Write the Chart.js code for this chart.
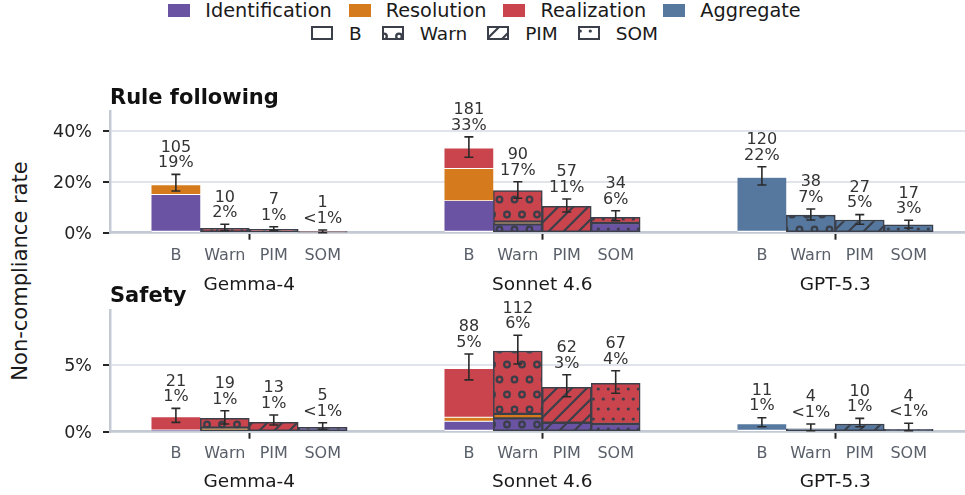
<!DOCTYPE html>
<html>
<head>
<meta charset="utf-8">
<script src="https://cdn.jsdelivr.net/npm/chart.js@4.4.1/dist/chart.umd.min.js"></script>
<style>
html,body{margin:0;padding:0;background:#fff;}
body{width:965px;height:495px;position:relative;overflow:hidden;font-family:"DejaVu Sans",sans-serif;}
.cw{position:absolute;left:0;width:965px;}
#c1w{top:80px;height:220px;}
#c2w{top:280px;height:215px;}
#ylab{position:absolute;left:19.5px;top:271px;transform:translate(-50%,-50%) rotate(-90deg);font-size:21px;color:#1a1a1a;white-space:nowrap;}
.legrow{position:absolute;left:0;width:969px;height:20px;display:flex;justify-content:center;align-items:center;color:#1a1a1a;white-space:nowrap;}
#leg1{top:0px;font-size:19.3px;}
#leg2{top:23px;font-size:18.5px;}
.item{display:flex;align-items:center;}
#leg1 .item{margin:0 8.5px;}
#leg2 .item{margin:0 10px;}
#leg1 canvas{margin-right:15px;}
#leg2 canvas{margin-right:16px;}
</style>
</head>
<body>
<div id="leg1" class="legrow"></div>
<div id="leg2" class="legrow"></div>
<div id="ylab">Non-compliance rate</div>
<div id="c1w" class="cw"><canvas id="c1" width="965" height="220"></canvas></div>
<div id="c2w" class="cw"><canvas id="c2" width="965" height="215"></canvas></div>
<script>
// ---------------- data ----------------
const GROUPS = ['Gemma-4', 'Sonnet 4.6', 'GPT-5.3'];
const CONDITIONS = ['B', 'Warn', 'PIM', 'SOM'];
const CATEGORIES = ['Identification', 'Resolution', 'Realization', 'Aggregate'];
const CAT_COLORS = ['#6a53a2', '#d57b1d', '#c9444c', '#56789f'];

// Rule following (% non-compliance); bar order: Gemma B,Warn,PIM,SOM, Sonnet ..., GPT ...
const rfIdentification = [14.8, null, null, null, 12.4, 3.3, null, 3.8, null, null, null, null];
const rfResolution     = [3.8, null, null, null, 12.6, 1.0, null, null, null, null, null, null];
const rfRealization    = [null, 1.75, 1.3, 0.18, 8.1, 12.2, 10.35, 2.2, null, null, null, null];
const rfAggregate      = [null, null, null, null, null, null, null, null, 21.6, 6.9, 5.0, 3.1];
const rfErrLow  = [16.35, 0.8, 0.8, 0.0, 29.6, 13.5, 8.1, 4.7, 18.7, 5.0, 3.3, 1.85];
const rfErrHigh = [22.9, 3.3, 2.35, 1.06, 37.6, 20.0, 13.2, 8.6, 25.9, 9.3, 7.1, 4.9];
const rfCounts  = ['105', '10', '7', '1', '181', '90', '57', '34', '120', '38', '27', '17'];
const rfPct     = ['19%', '2%', '1%', '<1%', '33%', '17%', '11%', '6%', '22%', '7%', '5%', '3%'];
const rfTicks   = [0, 20, 40];
const rfMax     = 47.5;

// Safety
const sfIdentification = [0.1, null, null, 0.33, 0.75, 1.0, 0.67, 0.58, null, null, null, null];
const sfResolution     = [null, 0.3, null, null, 0.3, 0.33, null, null, null, null, null, null];
const sfRealization    = [0.98, 0.7, 0.7, null, 3.65, 4.72, 2.66, 3.05, null, null, null, null];
const sfAggregate      = [null, null, null, null, null, null, null, null, 0.55, 0.22, 0.58, 0.18];
const sfErrLow  = [0.7, 0.58, 0.5, 0.18, 3.88, 5.07, 2.62, 2.88, 0.37, 0.07, 0.37, 0.07];
const sfErrHigh = [1.75, 1.57, 1.25, 0.67, 5.82, 7.23, 4.27, 4.57, 1.05, 0.58, 1.0, 0.63];
const sfCounts  = ['21', '19', '13', '5', '88', '112', '62', '67', '11', '4', '10', '4'];
const sfPct     = ['1%', '1%', '1%', '<1%', '5%', '6%', '3%', '4%', '1%', '<1%', '1%', '<1%'];
const sfTicks   = [0, 5];
const sfMax     = 9.12;

// ---------------- layout / style ----------------
const FONT = "'DejaVu Sans', sans-serif";
Chart.defaults.font.family = FONT;
const EDGE = '#3a3f4a';
const X_MIN = -0.4754, X_MAX = 2.4427;   // group index axis range
const BAR_W = 0.167;                      // bar width in group units

function barX(i) {
  const g = Math.floor(i / 4), c = i % 4;
  return g + (c - 1.5) * BAR_W;
}

// ---------------- hatch patterns ----------------
const patCache = {};
function makeTile(color, cond) {
  const t = document.createElement('canvas');
  const c = t.getContext('2d');
  if (cond === 1) {
    t.width = 15; t.height = 30;
    c.fillStyle = color; c.fillRect(0, 0, 15, 30);
    c.strokeStyle = EDGE; c.lineWidth = 2.3;
    const pts = [[4.5, 19.5], [12, 4.5]];
    for (const [px, py] of pts) {
      for (const dx of [-15, 0, 15]) for (const dy of [-30, 0, 30]) {
        c.beginPath(); c.arc(px + dx, py + dy, 2.8, 0, Math.PI * 2); c.stroke();
      }
    }
  } else if (cond === 2) {
    t.width = 15; t.height = 15;
    c.fillStyle = color; c.fillRect(0, 0, 15, 15);
    c.strokeStyle = EDGE; c.lineWidth = 2.2; c.lineCap = 'square';
    for (const k of [0, 15, 30]) {
      c.beginPath(); c.moveTo(-2, k + 2); c.lineTo(17, k - 17); c.stroke();
    }
  } else {
    t.width = 10; t.height = 20;
    c.fillStyle = color; c.fillRect(0, 0, 10, 20);
    c.fillStyle = EDGE;
    const pts = [[8.3, 9], [3.3, 19]];
    for (const [px, py] of pts) {
      for (const dx of [-10, 0, 10]) for (const dy of [-20, 0, 20]) {
        c.beginPath(); c.arc(px + dx, py + dy, 1.6, 0, Math.PI * 2); c.fill();
      }
    }
  }
  return t;
}
function fillFor(ctx2d, color, cond, pageX, pageY) {
  if (cond === 0) return color;
  const key = color + '|' + cond + '|' + pageX + '|' + pageY;
  if (!patCache[key]) {
    const p = ctx2d.createPattern(makeTile(color, cond), 'repeat');
    p.setTransform(new DOMMatrix().translate(-pageX, -pageY));
    patCache[key] = p;
  }
  return patCache[key];
}

// ---------------- legend ----------------
(function buildLegend() {
  const l1 = document.getElementById('leg1');
  CATEGORIES.forEach((name, k) => {
    const it = document.createElement('div'); it.className = 'item';
    const cv = document.createElement('canvas'); cv.width = 22; cv.height = 13;
    const c = cv.getContext('2d'); c.fillStyle = CAT_COLORS[k]; c.fillRect(0, 0, 22, 13);
    const sp = document.createElement('span'); sp.textContent = name;
    it.appendChild(cv); it.appendChild(sp); l1.appendChild(it);
  });
  const l2 = document.getElementById('leg2');
  CONDITIONS.forEach((name, k) => {
    const it = document.createElement('div'); it.className = 'item';
    const cv = document.createElement('canvas'); cv.width = 22; cv.height = 14;
    const c = cv.getContext('2d');
    c.fillStyle = k === 0 ? '#ffffff' : fillFor(c, '#ffffff', k, -3 - k * 2, -6);
    c.fillRect(0, 0, 22, 14);
    c.strokeStyle = EDGE; c.lineWidth = 2; c.strokeRect(1, 1, 20, 12);
    const sp = document.createElement('span'); sp.textContent = name;
    it.appendChild(cv); it.appendChild(sp); l2.appendChild(it);
  });
})();

// ---------------- error bars + labels plugin ----------------
const errPlugin = {
  id: 'errLabels',
  afterDatasetsDraw(chart) {
    const o = chart.options.plugins.errLabels;
    const xs = chart.scales.x, ys = chart.scales.y, ctx = chart.ctx;
    ctx.save();
    for (let i = 0; i < o.lo.length; i++) {
      const x = xs.getPixelForValue(barX(i));
      const yl = ys.getPixelForValue(o.lo[i]);
      const yh = ys.getPixelForValue(o.hi[i]);
      ctx.strokeStyle = '#2a2a2a'; ctx.lineWidth = 1.6;
      ctx.beginPath();
      ctx.moveTo(x, yl); ctx.lineTo(x, yh);
      ctx.moveTo(x - 4.5, yl); ctx.lineTo(x + 4.5, yl);
      ctx.moveTo(x - 4.5, yh); ctx.lineTo(x + 4.5, yh);
      ctx.stroke();
      ctx.fillStyle = '#333333';
      ctx.font = '16px ' + FONT;
      ctx.textAlign = 'center'; ctx.textBaseline = 'alphabetic';
      ctx.fillText(o.pct[i], x, yh - 7.2);
      ctx.fillText(o.counts[i], x, yh - 22.7);
    }
    ctx.restore();
  }
};

// ---------------- chart factory ----------------
function makeChart(id, pageTop, title, titlePad, series, lo, hi, counts, pct, yTicks, yMax, padC, padG, hG) {
  const canvas = document.getElementById(id);
  const c2d = canvas.getContext('2d');
  const datasets = CATEGORIES.map((cat, k) => ({
    label: cat,
    xAxisID: 'x', yAxisID: 'y', stack: 's',
    data: series[k].map((v, i) => v == null ? null : { x: barX(i), y: v, c: i % 4 }).filter(Boolean),
    backgroundColor: (ctx) => ctx.raw ? fillFor(c2d, CAT_COLORS[k], ctx.raw.c, 0, pageTop) : CAT_COLORS[k],
    borderColor: (ctx) => (ctx.raw && ctx.raw.c === 0) ? '#ffffff' : EDGE,
    borderWidth: (ctx) => (ctx.raw && ctx.raw.c === 0) ? { top: 0, left: 0, right: 0, bottom: 1.3 } : 1.5,
    borderSkipped: false,
    barPercentage: 1, categoryPercentage: 1
  }));
  const barTicks = GROUPS.flatMap((g, gi) => CONDITIONS.map((c, ci) => ({ value: barX(gi * 4 + ci) })));
  return new Chart(canvas, {
    type: 'bar',
    data: { datasets },
    plugins: [errPlugin],
    options: {
      responsive: false, animation: false,
      layout: { padding: { left: 0, right: 0, top: 0, bottom: 0 } },
      plugins: {
        legend: { display: false },
        tooltip: { enabled: false },
        title: {
          display: true, text: title, align: 'start', fullSize: false,
          color: '#111111', font: { size: 21, weight: 'bold', family: FONT },
          padding: titlePad
        },
        errLabels: { lo, hi, counts, pct }
      },
      scales: {
        x: {
          type: 'linear', min: X_MIN, max: X_MAX, offset: false, stacked: true,
          position: 'bottom', weight: 0, z: 1,
          afterBuildTicks: (s) => { s.ticks = GROUPS.map((g, i) => ({ value: i })); },
          afterFit: (s) => { s.height = 7; },
          ticks: { display: false },
          grid: { display: true, offset: false, drawOnChartArea: false, drawTicks: true, tickLength: 7,
                  color: 'rgba(0,0,0,0)', tickColor: '#262626', tickWidth: 2 },
          border: { display: true, color: '#c4cad3', width: 2.5 }
        },
        xc: {
          type: 'linear', min: X_MIN, max: X_MAX, offset: false, position: 'bottom', weight: 1,
          afterBuildTicks: (s) => { s.ticks = barTicks.map(t => ({ value: t.value })); },
          afterFit: (s) => { s.height = 30; },
          ticks: { autoSkip: false, maxRotation: 0, padding: padC, color: '#5a606a',
                   font: { size: 16, family: FONT },
                   callback: (v, i) => CONDITIONS[i % 4] },
          grid: { display: false, drawTicks: false },
          border: { display: false }
        },
        xg: {
          type: 'linear', min: X_MIN, max: X_MAX, offset: false, position: 'bottom', weight: 2,
          afterBuildTicks: (s) => { s.ticks = GROUPS.map((g, i) => ({ value: i })); },
          afterFit: (s) => { s.height = hG; },
          ticks: { autoSkip: false, maxRotation: 0, padding: padG, color: '#1a1a1a',
                   font: { size: 18.5, family: FONT },
                   callback: (v, i) => GROUPS[i] },
          grid: { display: false, drawTicks: false },
          border: { display: false }
        },
        y: {
          type: 'linear', min: 0, max: yMax, stacked: true,
          afterBuildTicks: (s) => { s.ticks = yTicks.map(v => ({ value: v })); },
          afterFit: (s) => { s.width = 110; },
          ticks: { padding: 11, labelOffset: 1.5, color: '#222222', font: { size: 17.5, family: FONT },
                   callback: (v) => v + '%' },
          grid: { color: '#e1e5eb', lineWidth: 2, drawTicks: true, tickLength: 7,
                  tickColor: '#262626', tickWidth: 2 },
          border: { display: true, color: '#c4cad3', width: 2.5 }
        }
      }
    }
  });
}

makeChart('c1', 80, 'Rule following', { top: 5.5, bottom: 1.0 },
  [rfIdentification, rfResolution, rfRealization, rfAggregate],
  rfErrLow, rfErrHigh, rfCounts, rfPct, rfTicks, rfMax, 6.2, 4.7, 30.3);

makeChart('c2', 280, 'Safety', { top: 3.5, bottom: 1.3 },
  [sfIdentification, sfResolution, sfRealization, sfAggregate],
  sfErrLow, sfErrHigh, sfCounts, sfPct, sfTicks, sfMax, 5.7, 2.2, 26.3);
</script>
</body>
</html>
